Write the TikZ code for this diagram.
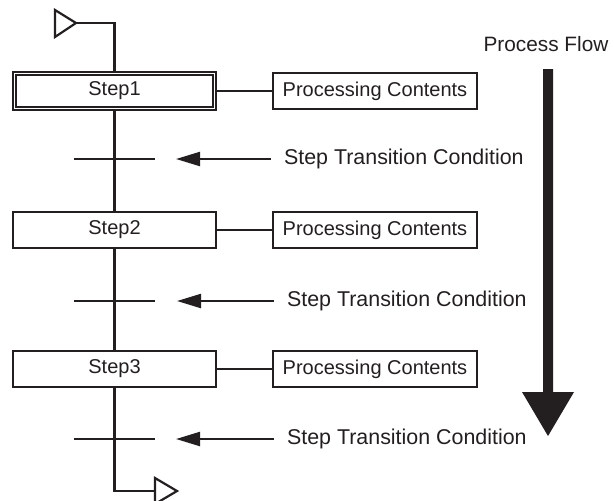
\documentclass[tikz,border=0pt]{standalone}
\usepackage{fontspec}
\setmainfont{Liberation Sans}
\usetikzlibrary{arrows.meta}
\definecolor{ink}{HTML}{231F20}

\begin{document}
\begin{tikzpicture}[x=0.5pt,y=-0.5pt,line width=1.1pt,color=ink,
	stepbox/.style={draw,minimum width=101.5pt,minimum height=18pt,inner sep=0pt},
	procbox/.style={draw,minimum width=102pt,minimum height=18pt,inner sep=0pt},
	cond/.style={anchor=west,inner sep=6pt,font=\fontsize{10.7}{12}\selectfont},
	>={Triangle[length=12pt,width=7pt]}]
	\useasboundingbox (0,0) rectangle (614,500);
	% steps and their contents
	\node (s1) [stepbox,double,line width=0.9pt,double distance=0.8pt,minimum width=100pt,minimum height=17.4pt] at (114.5,91) {Step1};
	\node (s2) [stepbox] at (114.5,230) {Step2};
	\node (s3) [stepbox] at (114.5,369) {Step3};
	\node (p1) [procbox] at (375,91) {Processing Contents};
	\node (p2) [procbox] at (375,230) {Processing Contents};
	\node (p3) [procbox] at (375,369) {Processing Contents};
	\draw (s1)--(p1);
	\draw (s2)--(p2);
	\draw (s3)--(p3);
	% transitions
	\node (c1) [cond] at (271,159) {Step Transition Condition};
	\node (c2) [cond] at (274,301) {Step Transition Condition};
	\node (c3) [cond] at (274,439) {Step Transition Condition};
	\coordinate (h1) at (176,159);
	\coordinate (h2) at (177,301);
	\coordinate (h3) at (176,439);
	\draw [->](c1.west)--(h1);
	\draw [->](c2.west)--(h2);
	\draw [->](c3.west)--(h3);
	\draw (74,159)--(155,159);
	\draw (74,301)--(155,301);
	\draw (74,439)--(155,439);
	% main line, begin and end
	\coordinate (in) at (76,23);
	\coordinate (out) at (155,491);
	\draw (55,10)--(55,37)--(in)--cycle;
	\draw (in)-|(s1.north);
	\draw (s1)--(s2);
	\draw (s2)--(s3);
	\draw (s3.south)|-(out);
	\draw (out)--(155,478)--(177,491)--(155,504)--cycle;
	% process flow
	\node (flow) [font=\fontsize{10.4}{12}\selectfont] at (546,44) {Process Flow};
	\fill (543,69)--(553,69)--(553,392)--(574,392)--(548,436)--(522,392)--(543,392)--cycle;
\end{tikzpicture}
\end{document}
